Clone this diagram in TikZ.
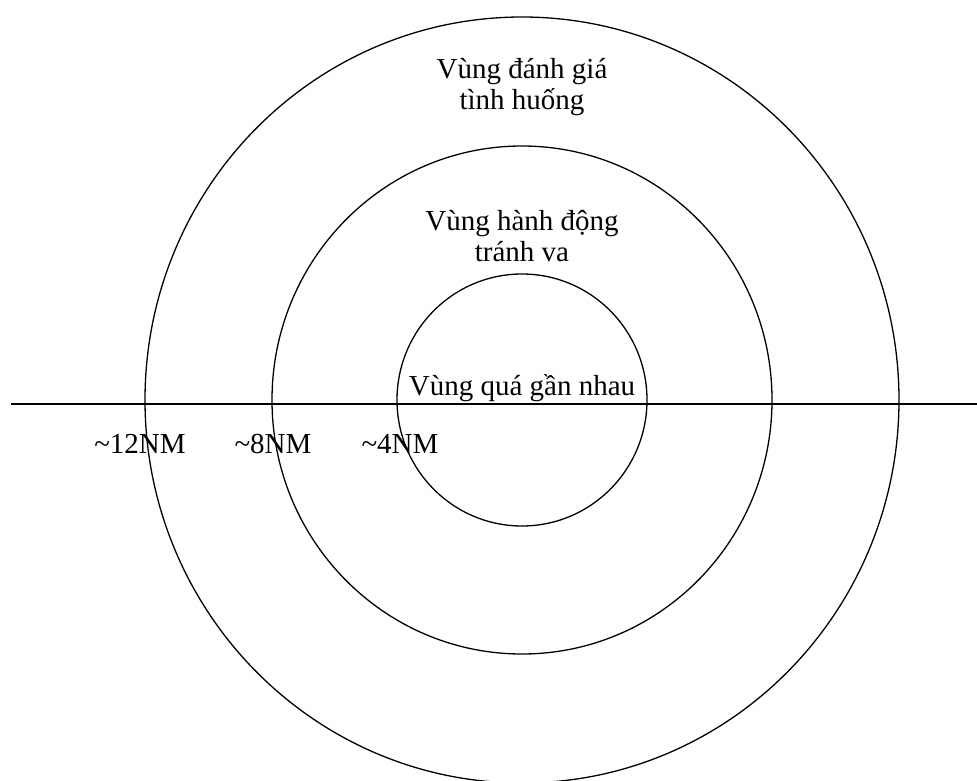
\documentclass[tikz,border=0pt]{standalone}
\usepackage{fontspec}
\setmainfont{Liberation Serif}
\usetikzlibrary{positioning}
\begin{document}
\begin{tikzpicture}[x=1pt, y=-1pt,
  ring/.style={draw, line width=1.3pt},
  axis/.style={draw, line width=2pt},
  zone/.style={font=\fontsize{29}{31}\selectfont, align=center, anchor=base, inner sep=0pt},
  dist/.style={font=\fontsize{29}{31}\selectfont, anchor=base, inner sep=0pt}
]
\useasboundingbox (0,0) rectangle (977,781);

\coordinate (c) at (522,400);
\draw[ring] (c) ellipse [x radius=377, y radius=383];
\draw[ring] (c) ellipse [x radius=250, y radius=254];
\draw[ring] (c) ellipse [x radius=125, y radius=126];

\coordinate (w) at (11,404);
\coordinate (e) at (977,404);
\draw[axis] (w) -- (e);

% last line sits on the base anchor
\node[zone] (outer) at (522,110) {Vùng đánh giá\\tình huống};
\node[zone] (mid) at (522,261) {Vùng hành động\\tránh va};
\node[zone] (inner) at (522,395) {Vùng quá gần nhau};

\node[dist] (d12) at (140,453) {\textasciitilde12NM};
\node[dist] (d8) at (273,453) {\textasciitilde8NM};
\node[dist] (d4) at (400,453) {\textasciitilde4NM};

\end{tikzpicture}
\end{document}
